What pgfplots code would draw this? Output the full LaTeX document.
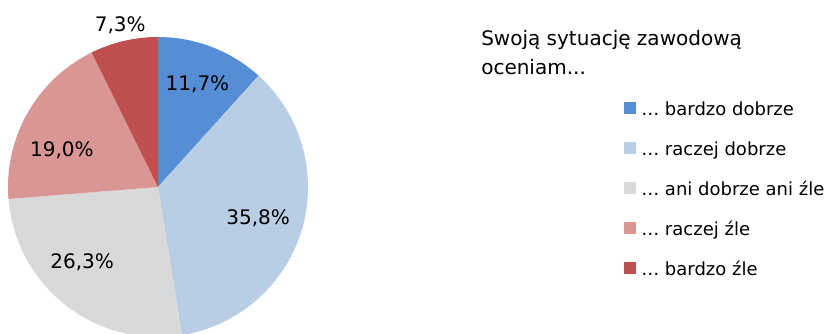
\documentclass[border=0pt]{standalone}
\usepackage{pgfplots}
\usepackage{pgfplotstable}
\pgfplotsset{compat=1.18}
\usepackage{fontspec}
\setmainfont{DejaVu Sans}

\definecolor{pie0}{RGB}{85,142,213}
\definecolor{pie1}{RGB}{185,205,229}
\definecolor{pie2}{RGB}{217,217,217}
\definecolor{pie3}{RGB}{217,150,148}
\definecolor{pie4}{RGB}{192,80,77}

% value = share in percent, lr = label distance from centre, da = label angle shift (clockwise)
\pgfplotstableread{
value lr  da
11.7  110 0
35.8  105 1
26.3  107 7
19.0  103 -8.5
7.3   166 0
}\piedata

\begin{document}
\begin{tikzpicture}
% total of all shares
\gdef\pietotal{0}
\foreach \i in {0,...,4}{%
  \pgfplotstablegetelem{\i}{value}\of\piedata
  \pgfmathsetmacro\t{\pietotal+\pgfplotsretval}%
  \global\let\pietotal\t
}
% start/end angle of each slice, clockwise from the top, plus label placement
\gdef\piecum{0}
\foreach \i in {0,...,4}{%
  \pgfplotstablegetelem{\i}{value}\of\piedata \let\pv\pgfplotsretval
  \pgfplotstablegetelem{\i}{lr}\of\piedata \let\pr\pgfplotsretval
  \pgfplotstablegetelem{\i}{da}\of\piedata \let\pd\pgfplotsretval
  \pgfmathsetmacro\pa{90-\piecum/\pietotal*360}%
  \pgfmathsetmacro\pb{90-(\piecum+\pv)/\pietotal*360}%
  \pgfmathsetmacro\pmid{(\pa+\pb)/2-(\pd)}%
  \pgfmathsetmacro\plx{\pr*cos(\pmid)}%
  \pgfmathsetmacro\ply{\pr*sin(\pmid)}%
  \expandafter\xdef\csname pieA\i\endcsname{\pa}%
  \expandafter\xdef\csname pieB\i\endcsname{\pb}%
  \expandafter\xdef\csname pieLX\i\endcsname{\plx}%
  \expandafter\xdef\csname pieLY\i\endcsname{\ply}%
  \expandafter\xdef\csname pieV\i\endcsname{\pv}%
  \pgfmathsetmacro\pc{\piecum+\pv}%
  \global\let\piecum\pc
}
\begin{axis}[
  x=0.75pt, y=0.75pt,
  xmin=0, xmax=827, ymin=0, ymax=333,
  hide axis, clip=true,
  /pgf/number format/assume math mode=true,
]
\def\cx{158}\def\cy{146}\def\R{150}
\pgfplotsinvokeforeach{0,...,4}{
  \fill[pie#1] (axis cs:\cx,\cy)
    -- ++({\csname pieA#1\endcsname}:\R*0.75pt)
    arc[start angle=\csname pieA#1\endcsname, end angle=\csname pieB#1\endcsname, radius=\R*0.75pt]
    -- cycle;
}
\pgfplotsinvokeforeach{0,...,4}{
  \node[font=\fontsize{15}{18}\selectfont, anchor=center, inner sep=0pt]
    at (axis cs:{\cx+\csname pieLX#1\endcsname},{\cy+\csname pieLY#1\endcsname})
    {\pgfmathprintnumber[fixed,fixed zerofill,precision=1,use comma,assume math mode=true]{\csname pieV#1\endcsname}\%};
}
% legend title
\node[font=\fontsize{15}{18}\selectfont, anchor=base west, inner sep=0pt] at (axis cs:481,288) {Swoją sytuację zawodową};
\node[font=\fontsize{15}{18}\selectfont, anchor=base west, inner sep=0pt] at (axis cs:481,259) {oceniam...};
% legend entries
\def\legrow#1#2#3{%
  \fill[#1] (axis cs:624,{#2+7-6}) rectangle (axis cs:636,{#2+7+6});
  \node[font=\fontsize{13.5}{16}\selectfont, anchor=base west, inner sep=0pt] at (axis cs:641,#2) {… #3};
}
\legrow{pie0}{218}{bardzo dobrze}
\legrow{pie1}{178}{raczej dobrze}
\legrow{pie2}{138}{ani dobrze ani źle}
\legrow{pie3}{98}{raczej źle}
\legrow{pie4}{58}{bardzo źle}
\end{axis}
\pgfresetboundingbox
\useasboundingbox (0,0) rectangle (620.25pt,249.75pt);
\end{tikzpicture}
\end{document}
